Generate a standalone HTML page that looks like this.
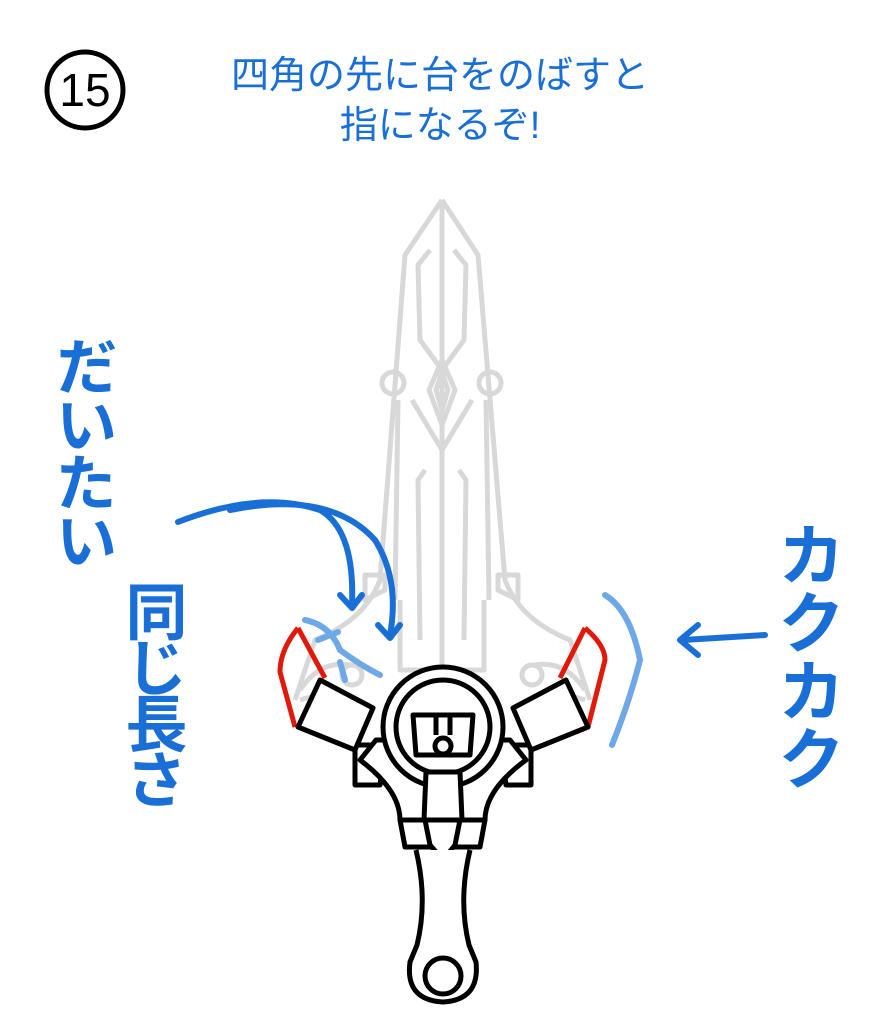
<!DOCTYPE html>
<html><head><meta charset="utf-8"><style>
html,body{margin:0;padding:0;background:#fff;width:885px;height:1024px;overflow:hidden}
svg{display:block}
</style></head><body>
<svg width="885" height="1024" viewBox="0 0 885 1024" xmlns="http://www.w3.org/2000/svg">
<circle cx="85" cy="90" r="38" fill="none" stroke="#000" stroke-width="5"/>
<text x="85" y="106" text-anchor="middle" font-family="Liberation Sans, sans-serif" font-size="46">15</text>
<text x="440" y="88" text-anchor="middle" fill="#1a6fd6" font-family="Liberation Sans, 'Noto Sans CJK JP', sans-serif" font-size="38">四角の先に台をのばすと</text>
<text x="440" y="138" text-anchor="middle" fill="#1a6fd6" font-family="Liberation Sans, 'Noto Sans CJK JP', sans-serif" font-size="38">指になるぞ!</text>

<g fill="none" stroke="#d8d8d8" stroke-width="5" stroke-linejoin="round">
<path d="M442 200 L478 255 L505 580 Q520 620 570 640 L590 700 M442 200 L405 255 L380 580 Q365 620 315 640 L295 700"/>
<path d="M442 205 L442 680"/>
<path d="M430 250 L418 265 L420 340 L442 370 L464 340 L466 265 L454 250"/>
<path d="M442 360 L455 390 L442 425 L429 390 Z"/>
<path d="M442 372 L448 390 L442 410 L436 390 Z"/>
<path d="M412 400 L430 430 L442 450 L454 430 L472 400"/>
<path d="M425 470 L418 480 L420 640 M459 470 L466 480 L464 640"/>
<path d="M398 400 L395 600 M486 400 L489 600"/>
<circle cx="393" cy="383" r="11"/><circle cx="490" cy="383" r="11"/>
<path d="M365 575 L385 575 L385 590 L365 600 Z M518 575 L498 575 L498 590 L518 600 Z"/>
<path d="M300 690 Q320 660 350 665 M585 690 Q565 660 535 665"/>
<path d="M300 700 Q330 690 355 700 M585 700 Q555 690 530 700"/>
<circle cx="352" cy="675" r="10"/><circle cx="532" cy="675" r="10"/>
<path d="M400 600 L400 670 L484 670 L484 600"/>
</g>

<g fill="none" stroke="#e01a0a" stroke-width="5" stroke-linejoin="round">
<path d="M298 628 Q280 650 280 672 L295 727 M298 628 L325 678"/>
<path d="M585 628 Q605 645 605 660 L588 727 M585 628 L560 678"/>
</g>

<g fill="#fff" stroke="#000" stroke-width="5" stroke-linejoin="round">
<path d="M355 745 L355 785 L380 785 L385 745 Z M531 745 L531 785 L506 785 L501 745 Z"/>
<path d="M360 760 Q400 790 400 820 L485 820 Q485 790 526 760 L510 740 L376 740 Z"/>
<path d="M320 680 L373 708 L355 750 L298 727 Z"/>
<path d="M566 680 L513 708 L531 750 L588 727 Z"/>
<circle cx="443" cy="727" r="60"/>
<circle cx="443" cy="727" r="47"/>
<path d="M413 715 L473 715 L470 755 L416 755 Z"/>
<path d="M436 717 L436 735 M450 717 L450 735"/>
<circle cx="443" cy="746" r="8"/>
<path d="M426 772 L460 772 L462 820 L424 820 Z"/>
<path d="M400 820 L485 820 L480 847 L405 847 Z"/>
<path d="M425 820 L460 820 L455 845 L443 860 L430 845 Z"/>
<path d="M416 850 Q428 900 417 945 L410 962 Q405 1000 443 1002 Q480 1000 476 962 L469 945 Q458 900 470 850"/>
<circle cx="443" cy="976" r="18"/>
</g>

<g fill="none" stroke="#1a6fd6" stroke-width="6" stroke-linecap="round" stroke-linejoin="round">
<path d="M178 522 Q260 490 320 510 Q355 530 352 605"/>
<path d="M340 595 L352 608 L362 595"/>
<path d="M230 510 Q330 490 375 540 Q400 580 390 635"/>
<path d="M378 625 L390 638 L400 625"/>
<path d="M683 640 L765 635 M698 625 L680 640 L698 655"/>
</g>
<g fill="none" stroke="#6fa8e6" stroke-width="6" stroke-linecap="round">
<path d="M605 595 Q630 610 640 660 Q630 700 612 745"/>
<path d="M305 620 Q330 625 340 650 Q360 665 380 675 M318 640 L338 632 M340 662 L345 680"/>
</g>
<text font-family="Liberation Sans, 'Noto Sans CJK JP', sans-serif" font-size="62" font-weight="bold" fill="#1a6fd6" style="writing-mode:vertical-rl" x="80" y="335" letter-spacing="-4">だいたい</text>
<text font-family="Liberation Sans, 'Noto Sans CJK JP', sans-serif" font-size="62" font-weight="bold" fill="#1a6fd6" style="writing-mode:vertical-rl" x="150" y="580" letter-spacing="-6">同じ長さ</text>
<text font-family="Liberation Sans, 'Noto Sans CJK JP', sans-serif" font-size="68" font-weight="bold" fill="#1a6fd6" style="writing-mode:vertical-rl" x="805" y="520">カクカク</text>
</svg>
</body></html>
